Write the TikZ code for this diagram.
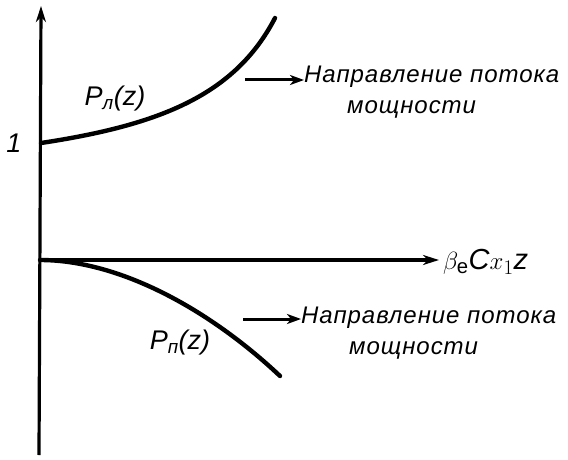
\documentclass[tikz,border=0pt]{standalone}
\usepackage{fontspec}
\setmainfont{Liberation Sans}
\usetikzlibrary{arrows.meta}
\begin{document}
\begin{tikzpicture}[x=1pt,y=-1pt,
  axis/.style={line width=3.2pt,-{Stealth[length=16pt,width=10pt,inset=5pt]}},
  curve/.style={line width=4.4pt,line cap=round},
  flow/.style={line width=3pt,-{Stealth[length=14pt,width=10pt,inset=4pt]}},
  lbl/.style={font=\fontsize{27}{30}\selectfont\itshape,inner sep=0pt},
  txt/.style={font=\fontsize{24}{31}\selectfont\itshape\addfontfeature{LetterSpace=4},inner sep=0pt,align=left}]
\useasboundingbox (0,0) rectangle (568,460);
% axes
\coordinate (o) at (40,260);
\coordinate (ybot) at (39,455);
\coordinate (ytop) at (41,6);
\coordinate (xend) at (439,260);
\draw[axis] (ybot) -- (ytop);
\draw[axis] (o) -- (xend);
\node[lbl,anchor=west,font=\fontsize{29}{30}\selectfont\itshape] (xl) at (443,262) {$\beta_{\mathrm{e}}$C$x_1$z};
\node[lbl] (one) at (14,143) {1};
% curves
\coordinate (u0) at (41,143);
\coordinate (u1) at (275,18);
\draw[curve] (u0) .. controls (160,125) and (235,95) .. (u1);
\coordinate (l1) at (280,376);
\draw[curve] (o) .. controls (120,260) and (210,310) .. (l1);
\node[lbl] (pl) at (115,99) {P\textsubscript{л}(z)};
\node[lbl] (pp) at (180,343) {P\textsubscript{п}(z)};
% flow texts
\node[txt,anchor=north west] (t1) at (304,66) {Направление потока\\\hspace*{43pt}мощности};
\node[txt,anchor=north west] (t2) at (301,307) {Направление потока\\\hspace*{48pt}мощности};
\coordinate (a1) at (245,80);
\coordinate (a2) at (243,319);
\draw[flow] (a1) -- (a1 -| t1.west);
\draw[flow] (a2) -- (a2 -| t2.west);
\end{tikzpicture}
\end{document}
